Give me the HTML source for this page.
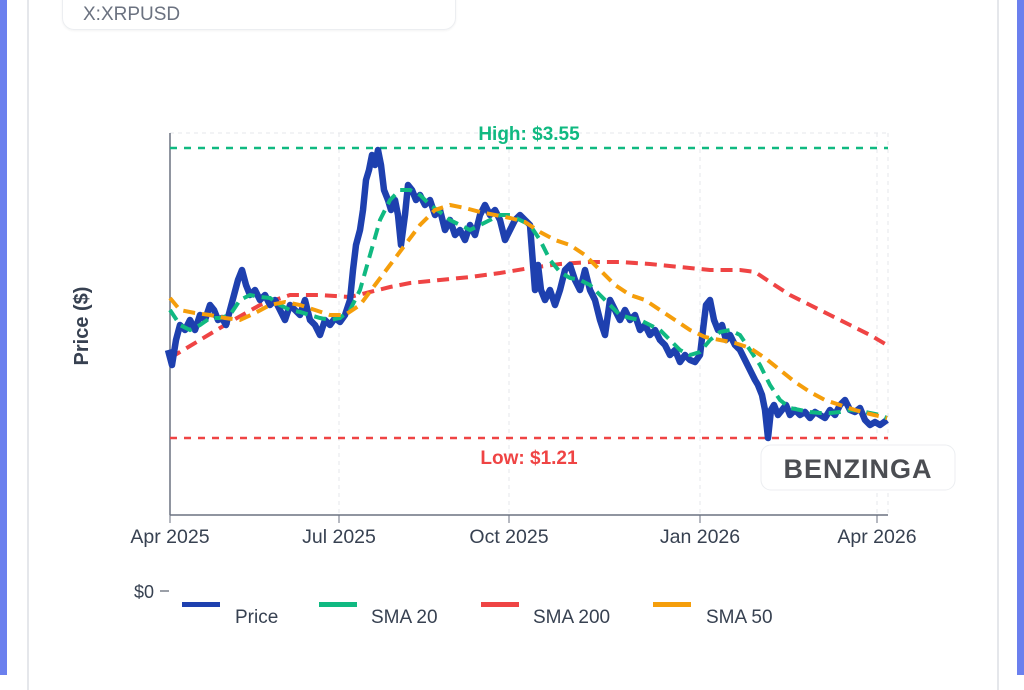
<!DOCTYPE html>
<html><head><meta charset="utf-8"><style>
body{margin:0;width:1024px;height:675px;overflow:hidden;background:#fff;font-family:"Liberation Sans",sans-serif;position:relative}
.lb{position:absolute;left:0;top:0;width:7px;height:675px;background:#6b80ee}
.rb{position:absolute;left:1017px;top:0;width:7px;height:675px;background:#6b80ee}
.card{position:absolute;left:27px;top:-10px;width:968px;height:700px;border-left:2px solid #e5e7eb;border-right:2px solid #e5e7eb}
.hdr{position:absolute;left:62px;top:-20px;width:392px;height:48px;border:1px solid #eceef1;border-radius:12px;box-shadow:0 1px 2px rgba(0,0,0,.05)}
.hdr span{position:absolute;left:20px;top:23px;font-size:19px;color:#6b7280}
</style></head><body>
<div class="lb"></div><div class="rb"></div><div class="card"></div>
<div class="hdr"><span>X:XRPUSD</span></div>
<svg width="1024" height="675" style="position:absolute;left:0;top:0">
<g stroke="#e5e7eb" stroke-dasharray="4,4" stroke-width="1">
<line x1="170" y1="133" x2="888" y2="133"/>
<line x1="339" y1="133" x2="339" y2="515"/><line x1="509" y1="133" x2="509" y2="515"/>
<line x1="700" y1="133" x2="700" y2="515"/><line x1="877" y1="133" x2="877" y2="515"/><line x1="888" y1="133" x2="888" y2="515"/>
</g>
<line x1="170" y1="133" x2="170" y2="515" stroke="#6b7280" stroke-width="1.5"/>
<line x1="170" y1="515" x2="888" y2="515" stroke="#6b7280" stroke-width="1.5"/>
<g stroke="#6b7280"><line x1="170" y1="515" x2="170" y2="523"/><line x1="339" y1="515" x2="339" y2="523"/><line x1="509" y1="515" x2="509" y2="523"/><line x1="700" y1="515" x2="700" y2="523"/><line x1="877" y1="515" x2="877" y2="523"/></g>
<g font-size="19.5" fill="#374151" text-anchor="middle">
<text x="170" y="543">Apr 2025</text><text x="339" y="543">Jul 2025</text><text x="509" y="543">Oct 2025</text><text x="700" y="543">Jan 2026</text><text x="877" y="543">Apr 2026</text>
</g>
<text x="88" y="326" font-size="20" font-weight="bold" fill="#374151" text-anchor="middle" transform="rotate(-90 88 326)">Price ($)</text>
<line x1="170" y1="148" x2="888" y2="148" stroke="#10b981" stroke-width="2.5" stroke-dasharray="7,7"/>
<text x="529" y="140" font-size="19" font-weight="bold" fill="#10b981" text-anchor="middle">High: $3.55</text>
<line x1="170" y1="438" x2="888" y2="438" stroke="#ef4444" stroke-width="2.5" stroke-dasharray="7,7"/>
<text x="529" y="464" font-size="19" font-weight="bold" fill="#ef4444" text-anchor="middle">Low: $1.21</text>
<polyline fill="none" stroke="#ef4444" stroke-width="4" stroke-dasharray="12,7" points="170,358 200,340 230,322 260,305 290,295 320,295 350,297 370,292 390,287 410,283 440,280 470,277 500,273 530,268 560,264 590,262 620,262 650,264 680,267 710,270 740,270 755,272 770,282 790,295 810,305 830,315 850,325 870,335 887,345"/>
<polyline fill="none" stroke="#1e40af" stroke-width="6.5" stroke-linejoin="round" points="168,350 172,365 176,340 180,325 185,330 190,320 195,330 200,315 205,320 210,305 214,310 218,320 222,318 226,325 230,310 234,295 238,280 242,270 246,285 250,295 255,290 260,300 265,295 270,305 275,300 280,310 285,320 290,305 295,310 300,315 305,300 310,320 315,325 320,335 325,320 330,325 335,318 340,322 345,315 350,300 353,270 356,245 360,230 363,210 366,180 369,170 372,155 375,165 378,150 381,165 384,190 388,200 391,210 395,200 398,215 401,245 405,215 408,185 412,190 416,200 420,195 425,205 430,200 435,215 440,210 445,230 450,220 455,235 460,230 465,240 470,225 475,235 480,215 485,205 490,215 495,210 500,220 505,240 510,230 515,220 520,215 525,220 530,225 535,290 538,265 541,290 545,300 550,290 555,305 560,290 565,270 570,265 575,280 580,290 585,270 590,290 595,300 600,320 605,335 610,300 615,310 620,320 625,310 630,320 635,315 640,330 645,325 650,335 655,330 660,340 665,345 670,355 675,350 680,362 685,355 690,360 695,362 700,355 703,330 706,305 710,300 714,320 718,330 722,325 726,340 730,335 735,345 740,350 745,360 750,370 755,380 758,385 762,395 765,410 768,438 771,410 774,405 778,415 782,410 786,405 790,415 795,410 800,415 805,412 810,418 815,412 820,415 825,418 830,410 835,415 840,405 845,400 850,410 855,412 860,408 865,420 870,425 875,422 880,425 887,420"/>
<polyline fill="none" stroke="#10b981" stroke-width="4" stroke-dasharray="12,7" points="170,310 180,325 190,330 200,325 210,318 220,318 230,315 240,300 250,295 260,297 270,298 280,305 290,310 300,312 310,315 320,318 330,320 340,318 350,310 360,290 370,255 380,220 390,200 400,190 410,190 420,195 430,205 440,212 450,220 460,225 470,230 480,225 490,220 500,215 510,215 520,220 530,225 540,240 550,260 560,272 570,278 580,280 590,285 600,295 610,305 620,315 630,318 640,320 650,325 660,330 670,340 680,350 690,355 700,352 710,340 720,332 730,330 740,335 750,350 760,365 770,385 780,400 790,408 800,410 810,412 820,413 830,413 840,412 850,410 860,411 870,413 880,415 887,418"/>
<polyline fill="none" stroke="#f59e0b" stroke-width="4" stroke-dasharray="12,7" points="170,298 180,310 195,313 210,315 225,318 240,320 255,313 270,305 285,302 300,305 315,310 330,315 345,315 360,305 375,285 390,265 405,245 420,225 435,210 450,205 465,208 480,212 495,215 510,218 525,222 540,232 555,240 570,245 585,255 600,270 615,285 630,295 645,300 660,310 675,320 690,330 705,337 720,340 735,343 750,348 765,358 780,370 795,382 810,392 825,400 840,405 855,410 870,414 887,418"/>
<rect x="761" y="445" width="194" height="45" rx="10" fill="#fff" stroke="#eceef1"/>
<text x="858" y="478" font-size="27" font-weight="bold" fill="#4b4d52" text-anchor="middle" letter-spacing="1">BENZINGA</text>
<text x="134" y="598" font-size="18" fill="#374151">$0</text><line x1="160" y1="591" x2="169" y2="591" stroke="#374151"/>
<rect x="182" y="602" width="38" height="5" fill="#1e40af"/><text x="235" y="623" font-size="19" fill="#374151">Price</text>
<rect x="319" y="602" width="38" height="5" fill="#10b981"/><text x="371" y="623" font-size="19" fill="#374151">SMA 20</text>
<rect x="481" y="602" width="38" height="5" fill="#ef4444"/><text x="533" y="623" font-size="19" fill="#374151">SMA 200</text>
<rect x="653" y="602" width="38" height="5" fill="#f59e0b"/><text x="706" y="623" font-size="19" fill="#374151">SMA 50</text>
</svg>
</body></html>
